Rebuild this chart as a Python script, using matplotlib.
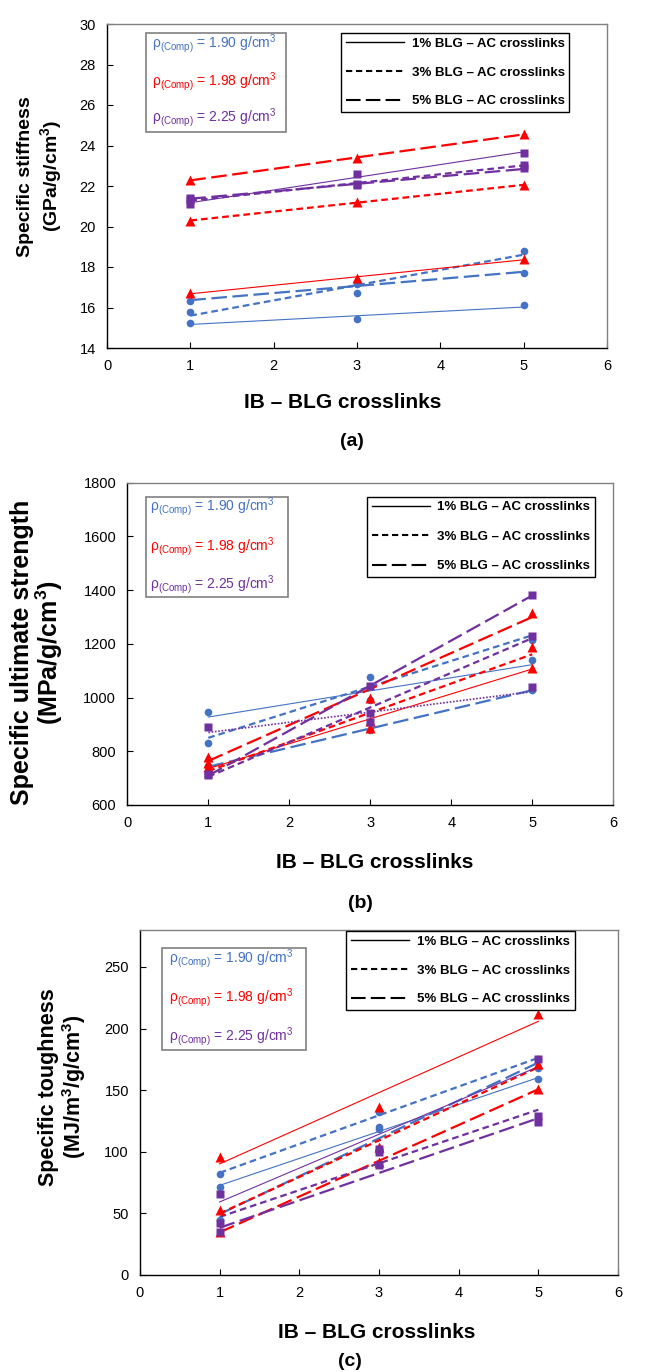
import numpy as np
import matplotlib
matplotlib.use('Agg')
import matplotlib.pyplot as plt
from matplotlib.lines import Line2D
from matplotlib.patches import Rectangle

plt.rcParams['font.family'] = ['Liberation Sans', 'DejaVu Sans']
plt.rcParams['mathtext.default'] = 'regular'

# IB - BLG crosslinks
x_links = [1, 3, 5]
# rows: 1%, 3%, 5% BLG - AC crosslinks
stiff_190 = [[15.25, 15.42, 16.11], [15.8, 16.70, 18.81], [16.32, 17.15, 17.72]]
stiff_198 = [[16.7, 17.47, 18.38], [20.29, 21.19, 22.05], [22.3, 23.37, 24.57]]
stiff_225 = [[21.1, 22.58, 23.61], [21.3, 22.1, 23.04], [21.4, 22.05, 22.87]]

strength_190 = [[945, 990, 1140], [832, 1077, 1214], [745, 880, 1030]]
strength_198 = [[740, 912, 1111], [755, 886, 1190], [780, 1000, 1316]]
strength_225 = [[889, 908, 1041], [715, 944, 1231], [710, 1043, 1381]]

tough_190 = [[71.7, 118.6, 159.2], [81.7, 132.1, 175.0], [44.6, 120.5, 167.6]]
tough_198 = [[96.1, 136.2, 211.8], [52.7, 103.7, 171.4], [35.0, 92.0, 151.1]]
tough_225 = [[65.4, 102.0, 175.2], [42.4, 100.1, 129.4], [35.1, 89.3, 124.0]]

densities = ['1.90', '1.98', '2.25']
blg_labels = ['1% BLG \u2013 AC crosslinks', '3% BLG \u2013 AC crosslinks', '5% BLG \u2013 AC crosslinks']

colors = ['#4472C4', '#FF0000', '#7030A0']
markers = ['o', '^', 's']
msizes = [5.5, 6.5, 5.5]
styles = ['-', (0, (3, 1.8)), (0, (7, 2.5))]
widths = [0.8, 1.6, 1.6]

W, H = 647, 1372
fig = plt.figure(figsize=(W / 100, H / 100), dpi=100)


def px_axes(l, t, r, b):
    return fig.add_axes([l / W, 1 - b / H, (r - l) / W, (b - t) / H])


def panel(ax, groups, ylim, yticks, ylabel, ylab_fs, ylab_ls, ylab_pos, box, rho_x, rho_y,
          leg_anchor, leg_space, dotted_purple=False):
    x = np.array(x_links, dtype=float)
    xs = np.array([x.min(), x.max()])
    for ci, grp in enumerate(groups):
        for si, vals in enumerate(grp):
            ls = styles[si]
            lw = widths[si]
            if dotted_purple and ci == 2 and si == 0:
                ls, lw = (0, (1, 1)), 1.2
            k, b = np.polyfit(x, vals, 1)
            ax.plot(xs, k * xs + b, color=colors[ci], ls=ls, lw=lw, zorder=2)
            ax.plot(x, vals, ls='none', marker=markers[ci], ms=msizes[ci],
                    color=colors[ci], mec='none', zorder=3)
    ax.set_xlim(0, 6)
    ax.set_ylim(*ylim)
    ax.set_xticks(range(7))
    ax.set_yticks(yticks)
    ax.tick_params(direction='in', length=4, width=0.8, labelsize=10.5, pad=8)
    for s in ['left', 'bottom']:
        ax.spines[s].set_color('black')
        ax.spines[s].set_linewidth(1.0)
    for s in ['top', 'right']:
        ax.spines[s].set_color('#808080')
        ax.spines[s].set_linewidth(1.0)
    ax.set_ylabel(ylabel, fontsize=ylab_fs, fontweight='bold', multialignment='center',
                  linespacing=ylab_ls)
    ax.yaxis.set_label_coords(*ylab_pos)

    # density box
    ax.add_patch(Rectangle((box[0], box[1]), box[2] - box[0], box[3] - box[1],
                           transform=ax.transAxes, fill=True, fc='white',
                           ec='#808080', lw=1.2, zorder=4))
    for ci, d in enumerate(densities):
        ax.text(rho_x, rho_y[ci], '\u03c1$_{(Comp)}$ = ' + d + ' g/cm$^{3}$',
                transform=ax.transAxes, color=colors[ci], fontsize=10,
                va='center', ha='left', zorder=5)

    handles = [Line2D([], [], color='black', ls=styles[i], lw=[1.0, 1.5, 1.5][i])
               for i in range(3)]
    leg = ax.legend(handles, blg_labels, loc='upper left', bbox_to_anchor=leg_anchor,
                    borderaxespad=0, fancybox=False, edgecolor='black', framealpha=1,
                    handlelength=4.4, handletextpad=0.6, labelspacing=leg_space,
                    borderpad=0.35, prop={'weight': 'bold', 'size': 9.5})
    leg.get_frame().set_linewidth(1.0)
    leg.set_zorder(6)


ax_a = px_axes(107, 24, 607, 348)
panel(ax_a, [stiff_190, stiff_198, stiff_225], (14, 30), range(14, 31, 2),
      'Specific stiffness\n(GPa/g/cm$^{3}$)', 14, 1.2, (-0.086, 0.53),
      (0.077, 0.667, 0.358, 0.972), 0.089, [0.941, 0.821, 0.710],
      (0.468, 0.972), 1.25)

ax_b = px_axes(127.3, 482.7, 613.3, 805)
panel(ax_b, [strength_190, strength_198, strength_225], (600, 1800), range(600, 1801, 200),
      'Specific ultimate strength\n(MPa/g/cm$^{3}$)', 18, 1.0, (-0.128, 0.474),
      (0.038, 0.646, 0.33, 0.957), 0.046, [0.925, 0.803, 0.685],
      (0.493, 0.957), 1.3, dotted_purple=True)

ax_c = px_axes(140, 930, 618, 1275)
panel(ax_c, [tough_190, tough_198, tough_225], (0, 280), range(0, 251, 50),
      'Specific toughness\n(MJ/m$^{3}$/g/cm$^{3}$)', 15.5, 1.05, (-0.109, 0.545),
      (0.047, 0.652, 0.347, 0.947), 0.061, [0.916, 0.804, 0.691],
      (0.432, 0.997), 1.25)

# x labels and panel tags
for (xl, yl), (xt, yt), tag in [((343, 403), (352, 442), '(a)'),
                                ((375, 862), (360, 903), '(b)'),
                                ((377, 1332), (350, 1362), '(c)')]:
    fig.text(xl / W, 1 - yl / H, 'IB \u2013 BLG crosslinks', fontsize=15,
             fontweight='bold', ha='center', va='center')
    fig.text(xt / W, 1 - yt / H, tag, fontsize=14, fontweight='bold',
             ha='center', va='center')

fig.savefig('out.png', dpi=100)
